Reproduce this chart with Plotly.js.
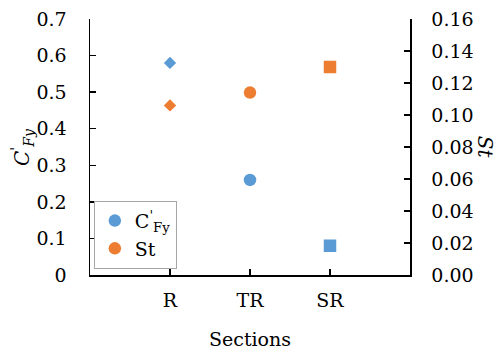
<!DOCTYPE html>
<html>
<head>
<meta charset="utf-8">
<script src="https://cdn.plot.ly/plotly-3.0.1.min.js"></script>
<style>html,body{margin:0;padding:0;background:#fff;}#chart{width:497px;height:351px;}</style>
</head>
<body>
<div id="chart"></div>
<script>
const categories = ['R', 'TR', 'SR'];
const cfyValues = [0.58, 0.26, 0.08];
const stValues = [0.106, 0.114, 0.130];
const leftTicks = [0, 0.1, 0.2, 0.3, 0.4, 0.5, 0.6, 0.7];
const rightTicks = [0, 0.02, 0.04, 0.06, 0.08, 0.10, 0.12, 0.14, 0.16];

const BLUE = '#5B9BD5', ORANGE = '#ED7D31';
const symbols = ['diamond', 'circle', 'square'];
const sizes = [9.5, 12.5, 12.5];
const FONT = 'DejaVu Serif';
const FS = 19;

const traces = [
  {x: categories, y: cfyValues, type: 'scatter', mode: 'markers', showlegend: false,
   marker: {color: BLUE, symbol: symbols, size: sizes, opacity: 1, line: {width: 0}}, xaxis: 'x', yaxis: 'y'},
  {x: categories, y: stValues, type: 'scatter', mode: 'markers', showlegend: false,
   marker: {color: ORANGE, symbol: symbols, size: sizes, opacity: 1, line: {width: 0}}, xaxis: 'x', yaxis: 'y2'},
  {x: [null], y: [null], type: 'scatter', mode: 'markers', name: 'C<sup>\'</sup><sub>Fy</sub>',
   marker: {color: BLUE, symbol: 'circle', size: 12.5, opacity: 1}},
  {x: [null], y: [null], type: 'scatter', mode: 'markers', name: 'St',
   marker: {color: ORANGE, symbol: 'circle', size: 12.5, opacity: 1}}
];

const axisCommon = {
  showgrid: false, zeroline: false, showline: true, linecolor: '#000', linewidth: 1.5,
  ticks: 'inside', ticklen: 6, tickwidth: 1.5, tickcolor: '#000',
  tickfont: {family: FONT, size: FS, color: '#000'}
};

const layout = {
  width: 497, height: 351,
  margin: {l: 90, r: 87, t: 19, b: 76},
  paper_bgcolor: '#fff', plot_bgcolor: '#fff',
  font: {family: FONT, size: FS, color: '#000'},
  xaxis: Object.assign({}, axisCommon, {type: 'category', range: [-1, 3], ticklabelstandoff: 8}),
  yaxis: Object.assign({}, axisCommon, {range: [0, 0.7], tickvals: leftTicks, ticktext: leftTicks.map(v => String(v)), ticklabelstandoff: 18}),
  yaxis2: Object.assign({}, axisCommon, {overlaying: 'y', side: 'right', range: [0, 0.16], tickvals: rightTicks, ticktext: rightTicks.map(v => v.toFixed(2)), ticklabelstandoff: 16}),
  legend: {x: 0.012, y: 0.29, xanchor: 'left', yanchor: 'top', bgcolor: '#fff', entrywidth: 94,
           bordercolor: '#a6a6a6', borderwidth: 1, font: {family: FONT, size: FS, color: '#000'}},
  annotations: [
    {text: '<i>C</i><sup>\'</sup><sub><i>Fy</i></sub>', xref: 'paper', yref: 'paper', x: -0.2125, y: 0.5,
     textangle: -90, showarrow: false, xanchor: 'center', yanchor: 'middle', font: {family: FONT, size: 20, color: '#000'}},
    {text: '<i>St</i>', xref: 'paper', yref: 'paper', x: 1.235, y: 0.5,
     textangle: 90, showarrow: false, xanchor: 'center', yanchor: 'middle', font: {family: FONT, size: 20, color: '#000'}},
    {text: 'Sections', xref: 'paper', yref: 'paper', x: 0.5, y: -0.25,
     showarrow: false, xanchor: 'center', yanchor: 'middle', font: {family: FONT, size: FS, color: '#000'}}
  ]
};

Plotly.newPlot('chart', traces, layout, {displayModeBar: false, staticPlot: true});
</script>
</body>
</html>
